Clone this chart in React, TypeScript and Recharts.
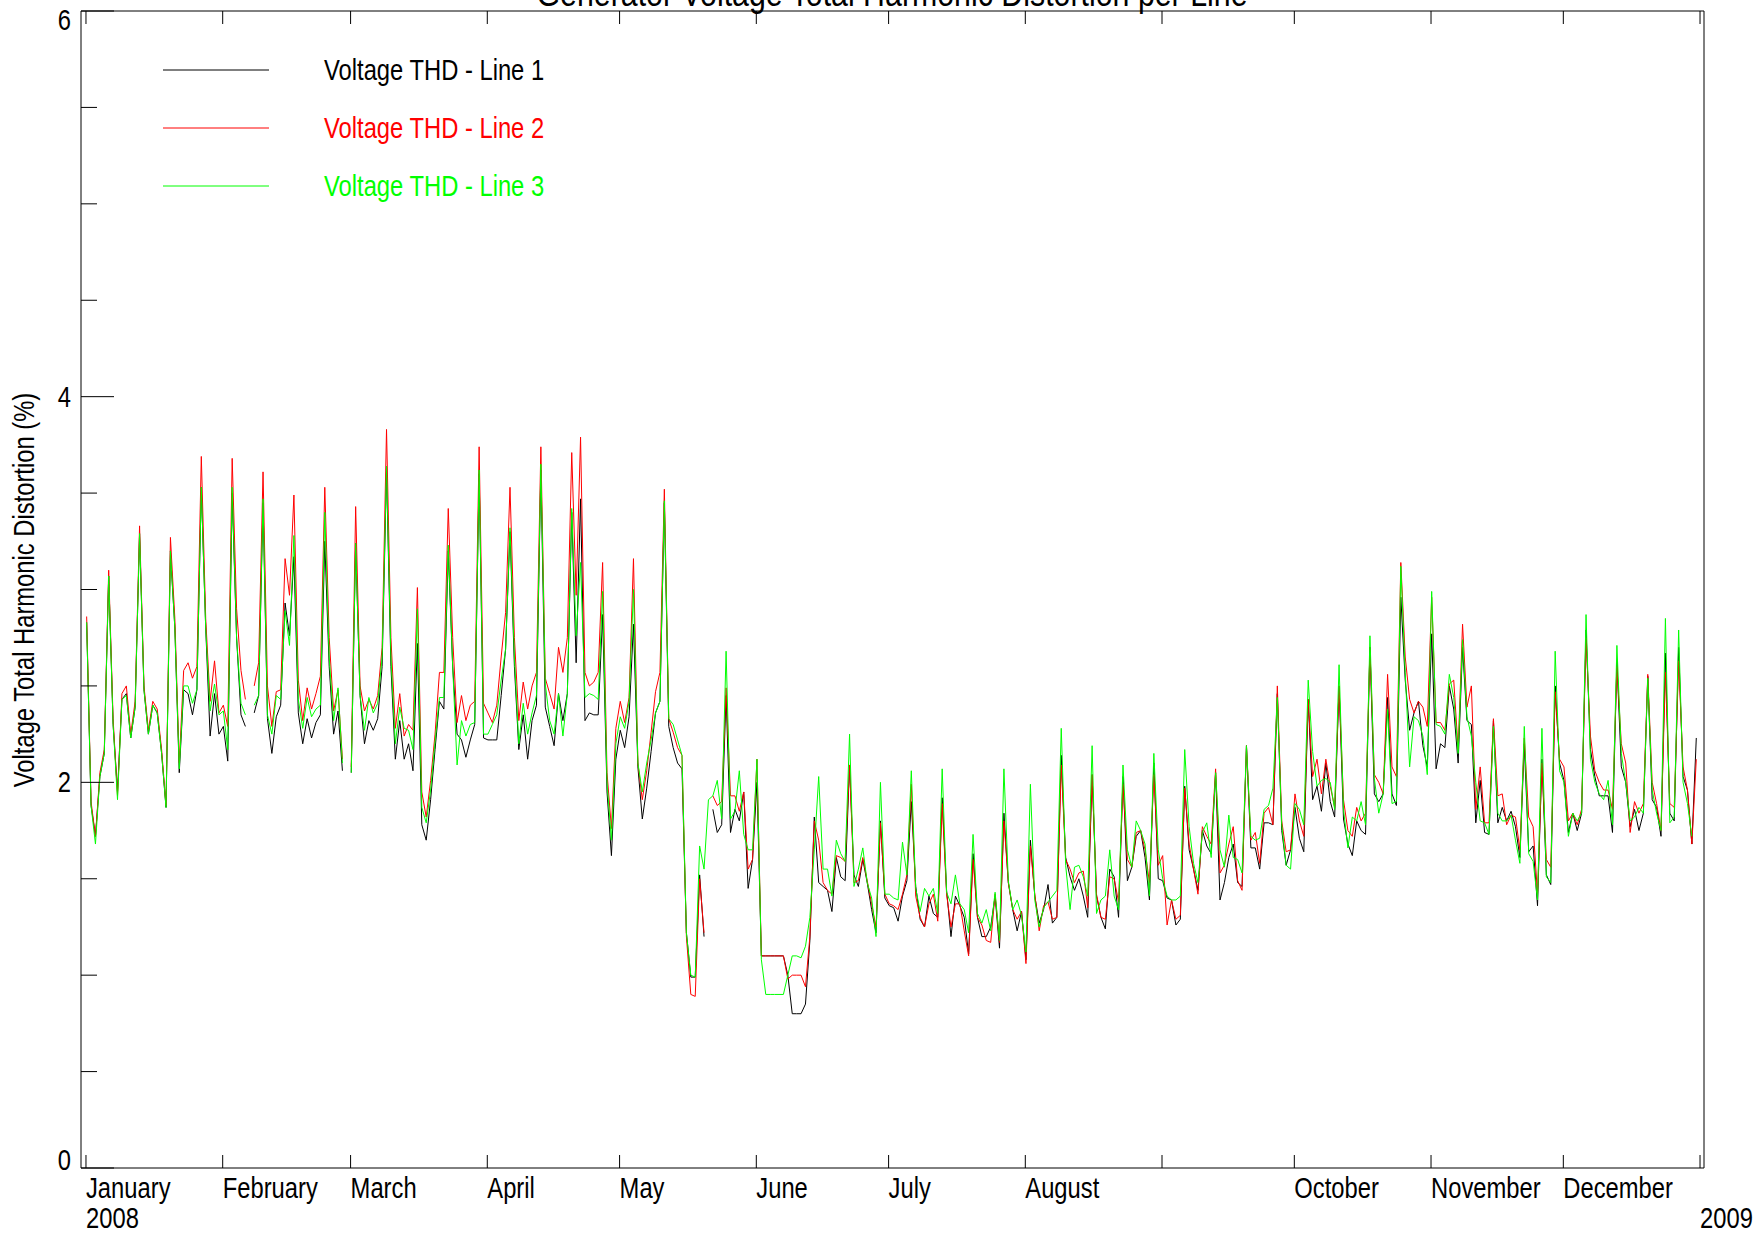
import React from 'react';
import { LineChart, Line, XAxis, YAxis } from 'recharts';

const FONT = "'Liberation Sans', Arial, sans-serif";
const NARROW = 0.82; // squeeze Liberation Sans to Arial Narrow proportions

// day-of-year positions of month starts (2008 is a leap year)
const monthTicks = [0, 31, 60, 91, 121, 152, 182, 213, 244, 274, 305, 335, 366];
const monthLabels = ['January', 'February', 'March', 'April', 'May', 'June', 'July', 'August', '', 'October', 'November', 'December', ''];
const yearLabels: Record<number, string> = { 0: '2008', 366: '2009' };
const yTicks = [0, 0.5, 1, 1.5, 2, 2.5, 3, 3.5, 4, 4.5, 5, 5.5, 6];
const yLabelTicks = [0, 2, 4, 6];

const seriesNames = ['Voltage THD - Line 1', 'Voltage THD - Line 2', 'Voltage THD - Line 3'];
const seriesColors = ['#000000', '#ff0000', '#00ff00'];

// daily values, Jan 1 2008 .. Dec 31 2008 (null = no reading)
const line1 = [
  2.83, 1.88, 1.72, 2.03, 2.15, 3.07, 2.3, 1.95, 2.43, 2.46,
  2.23, 2.39, 3.29, 2.48, 2.25, 2.4, 2.36, 2.15, 1.87, 3.2,
  2.8, 2.05, 2.48, 2.46, 2.35, 2.48, 3.53, 2.8, 2.24, 2.46,
  2.25, 2.29, 2.11, 3.5, 2.75, 2.35, 2.29, null, 2.36, 2.45,
  3.45, 2.33, 2.15, 2.34, 2.4, 2.93, 2.76, 3.17, 2.36, 2.2,
  2.33, 2.23, 2.31, 2.35, 3.25, 2.6, 2.25, 2.37, 2.06, null,
  2.05, 3.24, 2.45, 2.2, 2.32, 2.27, 2.33, 2.6, 3.62, 2.6,
  2.12, 2.32, 2.12, 2.2, 2.06, 2.72, 1.78, 1.7, 1.91, 2.17,
  2.42, 2.38, 3.2, 2.6, 2.25, 2.22, 2.13, 2.22, 2.3, 3.6,
  2.23, 2.22, 2.22, 2.22, 2.45, 2.69, 3.3, 2.6, 2.17, 2.35,
  2.12, 2.32, 2.4, 3.62, 2.39, 2.29, 2.19, 2.46, 2.32, 2.46,
  3.4, 2.62, 3.47, 2.32, 2.36, 2.35, 2.35, 2.87, 1.95, 1.62,
  2.12, 2.27, 2.18, 2.34, 2.82, 2.08, 1.81, 1.97, 2.16, 2.36,
  2.42, 3.45, 2.29, 2.18, 2.1, 2.07, 1.22, 0.99, 0.99, 1.52,
  1.2, null, 1.86, 1.74, 1.78, 2.45, 1.74, 1.86, 1.8, 1.95,
  1.45, 1.6, 2.0, 1.1, 1.1, 1.1, 1.1, 1.1, 1.1, 1.0,
  0.8, 0.8, 0.8, 0.85, 1.18, 1.82, 1.48, 1.46, 1.44, 1.33,
  1.61, 1.51, 1.49, 2.09, 1.52, 1.46, 1.6, 1.48, 1.34, 1.22,
  1.8, 1.4, 1.36, 1.35, 1.28, 1.41, 1.49, 1.9, 1.46, 1.29,
  1.25, 1.41, 1.32, 1.3, 1.92, 1.44, 1.2, 1.41, 1.36, 1.3,
  1.11, 1.63, 1.3, 1.2, 1.2, 1.25, 1.41, 1.14, 1.84, 1.48,
  1.34, 1.23, 1.33, 1.08, 1.7, 1.41, 1.27, 1.34, 1.47, 1.27,
  1.3, 2.14, 1.61, 1.51, 1.44, 1.5, 1.41, 1.3, 2.04, 1.41,
  1.3, 1.24, 1.55, 1.51, 1.3, 2.03, 1.49, 1.56, 1.72, 1.75,
  1.61, 1.39, 2.1, 1.5, 1.49, 1.4, 1.39, 1.26, 1.29, 1.98,
  1.65, 1.55, 1.44, 1.75, 1.67, 1.63, 2.05, 1.39, 1.48, 1.61,
  1.68, 1.48, 1.46, 2.19, 1.66, 1.66, 1.55, 1.79, 1.79, 1.78,
  2.46, 1.75, 1.57, 1.65, 1.87, 1.71, 1.64, 2.43, 1.91, 1.98,
  1.85, 2.1, 1.9, 1.82, 2.5, 1.81, 1.68, 1.62, 1.8, 1.75,
  1.73, 2.7, 1.94, 1.9, 1.94, 2.44, 1.94, 1.88, 2.96, 2.53,
  2.27, 2.36, 2.42, 2.19, 2.08, 2.77, 2.07, 2.2, 2.18, 2.5,
  2.38, 2.1, 2.7, 2.32, 2.3, 1.79, 2.01, 1.74, 1.73, 2.32,
  1.79, 1.87, 1.8, 1.85, 1.77, 1.61, 2.2, 1.64, 1.67, 1.36,
  2.12, 1.52, 1.47, 2.5, 2.1, 2.01, 1.74, 1.84, 1.75, 1.84,
  2.79, 2.17, 2.03, 1.93, 1.93, 1.93, 1.74, 2.63, 2.08, 2.0,
  1.77, 1.86, 1.75, 1.84, 2.55, 1.91, 1.87, 1.72, 2.67, 1.84,
  1.8, 2.7, 2.03, 1.96, 1.68, 2.23,
];

const line2 = [
  2.86, 1.9, 1.72, 2.05, 2.17, 3.1, 2.33, 1.93, 2.46, 2.5,
  2.25, 2.42, 3.33, 2.5, 2.27, 2.42, 2.38, 2.17, 1.88, 3.27,
  2.85, 2.1, 2.58, 2.62, 2.54, 2.6, 3.69, 2.85, 2.42, 2.63,
  2.36, 2.4, 2.29, 3.68, 2.9, 2.58, 2.43, null, 2.5, 2.62,
  3.61, 2.5, 2.29, 2.47, 2.48, 3.16, 2.97, 3.49, 2.53, 2.32,
  2.49, 2.38, 2.46, 2.55, 3.53, 2.75, 2.37, 2.48, 2.12, null,
  2.08, 3.43, 2.5, 2.37, 2.43, 2.38, 2.45, 2.7, 3.83, 2.75,
  2.28, 2.46, 2.24, 2.3, 2.27, 3.01, 1.95, 1.82, 2.01, 2.25,
  2.57, 2.57, 3.42, 2.75, 2.31, 2.45, 2.32, 2.4, 2.42, 3.74,
  2.41, 2.36, 2.31, 2.4, 2.65, 2.88, 3.53, 2.75, 2.32, 2.52,
  2.38, 2.5, 2.57, 3.74, 2.54, 2.46, 2.38, 2.7, 2.57, 2.75,
  3.71, 2.97, 3.79, 2.57, 2.5, 2.52, 2.57, 3.14, 2.05, 1.76,
  2.28, 2.42, 2.31, 2.44, 3.16, 2.1, 1.91, 2.06, 2.26, 2.47,
  2.57, 3.52, 2.33, 2.26, 2.18, 2.14, 1.2, 0.9, 0.89, 1.5,
  1.22, null, 1.93, 1.88, 1.9, 2.49, 1.93, 1.93, 1.85, 1.95,
  1.55, 1.6, 2.12, 1.1, 1.1, 1.1, 1.1, 1.1, 1.1, 0.98,
  1.0, 1.0, 1.0, 0.94, 1.2, 1.8, 1.7, 1.48, 1.44, 1.42,
  1.62, 1.61, 1.59, 2.09, 1.48, 1.49, 1.61, 1.49, 1.37, 1.25,
  1.79, 1.42, 1.37, 1.36, 1.34, 1.42, 1.52, 1.99, 1.41, 1.3,
  1.25, 1.37, 1.42, 1.28, 1.89, 1.42, 1.25, 1.37, 1.37, 1.23,
  1.1, 1.6, 1.3, 1.26, 1.18, 1.17, 1.42, 1.17, 1.8, 1.48,
  1.34, 1.29, 1.33, 1.06, 1.67, 1.42, 1.23, 1.36, 1.38, 1.29,
  1.3, 2.09, 1.6, 1.55, 1.48, 1.53, 1.54, 1.35, 2.04, 1.42,
  1.3, 1.29, 1.51, 1.5, 1.38, 1.99, 1.6, 1.56, 1.74, 1.75,
  1.65, 1.48, 2.04, 1.57, 1.62, 1.26, 1.39, 1.29, 1.31, 1.97,
  1.68, 1.55, 1.42, 1.77, 1.72, 1.68, 2.07, 1.53, 1.57, 1.68,
  1.77, 1.49, 1.44, 2.19, 1.7, 1.74, 1.58, 1.84, 1.87, 1.78,
  2.5, 1.8, 1.64, 1.65, 1.94, 1.8, 1.72, 2.43, 2.03, 2.12,
  1.94, 2.12, 1.98, 1.87, 2.5, 1.91, 1.75, 1.72, 1.87, 1.8,
  1.84, 2.7, 2.04, 2.0, 1.94, 2.56, 2.08, 2.03, 3.14, 2.65,
  2.43, 2.36, 2.42, 2.39, 2.29, 2.96, 2.31, 2.31, 2.27, 2.51,
  2.53, 2.17, 2.82, 2.39, 2.5, 1.86, 2.08, 1.79, 1.79, 2.33,
  1.93, 1.94, 1.78, 1.83, 1.82, 1.65, 2.23, 1.82, 1.77, 1.42,
  2.1, 1.6, 1.56, 2.47, 2.12, 2.08, 1.8, 1.84, 1.78, 1.86,
  2.75, 2.24, 2.06, 2.0, 1.96, 1.96, 1.86, 2.6, 2.2, 2.1,
  1.74, 1.9, 1.84, 1.89, 2.56, 2.0, 1.89, 1.75, 2.57, 1.89,
  1.87, 2.63, 2.08, 1.96, 1.68, 2.12,
];

const line3 = [
  2.83, 1.88, 1.68, 2.03, 2.15, 3.07, 2.3, 1.91, 2.43, 2.45,
  2.23, 2.39, 3.29, 2.48, 2.25, 2.4, 2.36, 2.15, 1.87, 3.2,
  2.8, 2.07, 2.5, 2.5, 2.41, 2.48, 3.53, 2.8, 2.37, 2.51,
  2.35, 2.37, 2.17, 3.53, 2.75, 2.41, 2.35, null, 2.4, 2.45,
  3.47, 2.35, 2.25, 2.45, 2.43, 2.89, 2.71, 3.28, 2.43, 2.28,
  2.44, 2.34, 2.38, 2.4, 3.4, 2.65, 2.32, 2.49, 2.1, null,
  2.05, 3.24, 2.45, 2.27, 2.44, 2.36, 2.41, 2.65, 3.64, 2.65,
  2.2, 2.39, 2.28, 2.27, 2.17, 2.9, 1.87, 1.79, 1.96, 2.21,
  2.44, 2.44, 3.23, 2.6, 2.09, 2.32, 2.24, 2.3, 2.31, 3.62,
  2.25, 2.25, 2.3, 2.35, 2.53, 2.69, 3.32, 2.65, 2.2, 2.41,
  2.25, 2.36, 2.45, 3.65, 2.51, 2.32, 2.25, 2.46, 2.24, 2.46,
  3.42, 2.76, 3.14, 2.44, 2.46, 2.45, 2.43, 2.99, 2.0, 1.7,
  2.2, 2.34, 2.28, 2.42, 3.0, 2.1, 1.95, 2.1, 2.22, 2.36,
  2.42, 3.46, 2.33, 2.3, 2.22, 2.14, 1.22, 1.0, 0.99, 1.67,
  1.55, 1.91, 1.93, 2.01, 1.81, 2.68, 1.81, 1.85, 2.06, 1.73,
  1.65, 1.65, 2.12, 1.08, 0.9, 0.9, 0.9, 0.9, 0.9, 1.0,
  1.1, 1.1, 1.09, 1.15, 1.3, 1.65, 2.03, 1.55, 1.55, 1.41,
  1.7, 1.63, 1.59, 2.25, 1.46, 1.55, 1.66, 1.48, 1.4, 1.2,
  2.0, 1.42, 1.42, 1.4, 1.39, 1.69, 1.52, 2.06, 1.45, 1.33,
  1.45, 1.41, 1.45, 1.32, 2.07, 1.43, 1.37, 1.52, 1.37, 1.34,
  1.22, 1.73, 1.32, 1.27, 1.34, 1.23, 1.43, 1.18, 2.07, 1.49,
  1.34, 1.39, 1.31, 1.12, 1.99, 1.39, 1.25, 1.35, 1.38, 1.41,
  1.44, 2.28, 1.57, 1.34, 1.56, 1.57, 1.51, 1.41, 2.19, 1.32,
  1.39, 1.41, 1.65, 1.41, 1.34, 2.09, 1.65, 1.56, 1.8, 1.75,
  1.68, 1.41, 2.15, 1.65, 1.5, 1.41, 1.39, 1.39, 1.41, 2.17,
  1.77, 1.58, 1.48, 1.74, 1.79, 1.61, 2.05, 1.65, 1.56, 1.83,
  1.61, 1.6, 1.53, 2.19, 1.72, 1.7, 1.71, 1.86, 1.88, 1.97,
  2.44, 1.78, 1.57, 1.55, 1.89, 1.86, 1.78, 2.53, 2.16, 1.98,
  2.01, 2.02, 2.0, 1.86, 2.61, 1.86, 1.66, 1.82, 1.8, 1.9,
  1.78, 2.76, 2.02, 1.84, 1.94, 2.38, 1.89, 1.9, 3.12, 2.57,
  2.08, 2.34, 2.32, 2.24, 2.04, 2.99, 2.3, 2.29, 2.25, 2.56,
  2.44, 2.15, 2.74, 2.34, 2.24, 2.0, 1.8, 1.79, 1.73, 2.29,
  1.84, 1.8, 1.8, 1.83, 1.7, 1.58, 2.29, 1.63, 1.59, 1.39,
  2.28, 1.51, 1.48, 2.68, 2.06, 2.0, 1.72, 1.84, 1.8, 1.84,
  2.87, 2.12, 2.0, 1.94, 1.91, 2.01, 1.78, 2.71, 2.15, 2.0,
  1.8, 1.82, 1.87, 1.84, 2.54, 1.96, 1.84, 1.75, 2.85, 1.79,
  1.82, 2.79, 2.0, 1.89, 1.72, null,
];

const data = line1.map((v, i) => ({ day: i + 0.15, l1: v, l2: line2[i], l3: line3[i] }));

const NText = ({ x, y, anchor = 'start', fill = '#000', size = 29, children }: any) => (
  <text
    transform={`translate(${x} ${y}) scale(${NARROW} 1)`}
    textAnchor={anchor}
    fontSize={size}
    fontFamily={FONT}
    fill={fill}
  >
    {children}
  </text>
);

const BottomTick = (props: any) => {
  const { x, y, payload } = props;
  const idx = monthTicks.indexOf(payload.value);
  const year = yearLabels[payload.value];
  return (
    <g>
      <line x1={x} x2={x} y1={y} y2={y - 13} stroke="#000" />
      {monthLabels[idx] ? <NText x={x} y={y + 30}>{monthLabels[idx]}</NText> : null}
      {year ? <NText x={x} y={y + 60}>{year}</NText> : null}
    </g>
  );
};

const TopTick = (props: any) => {
  const { x, y } = props;
  return <line x1={x} x2={x} y1={y} y2={y + 13} stroke="#000" />;
};

const LeftTick = (props: any) => {
  const { x, y, payload } = props;
  const major = yLabelTicks.includes(payload.value);
  const len = major ? 33 : 16;
  let dy = 10;
  if (payload.value === 6) dy = 19;
  if (payload.value === 0) dy = 2;
  return (
    <g>
      <line x1={x} x2={x + len} y1={y} y2={y} stroke="#000" />
      {major ? <NText x={x - 10} y={y + dy} anchor="end">{payload.value}</NText> : null}
    </g>
  );
};

const RightTick = (props: any) => {
  const { x, y, payload } = props;
  const len = yLabelTicks.includes(payload.value) ? 33 : 16;
  return <line x1={x} x2={x - len} y1={y} y2={y} stroke="#000" />;
};

export default function App() {
  return (
    <div style={{ position: 'absolute', left: 0, top: 0, width: 1758, height: 1235, background: '#fff', overflow: 'hidden' }}>
      <LineChart
        width={1758}
        height={1235}
        data={data}
        margin={{ top: 10, right: 53, bottom: 66, left: 80 }}
      >
        <XAxis
          xAxisId="b"
          type="number"
          dataKey="day"
          domain={[-1.13, 366.9]}
          ticks={monthTicks}
          interval={0}
          height={1}
          tickSize={0}
          tickMargin={0}
          tickLine={false}
          axisLine={{ stroke: '#000' }}
          tick={<BottomTick />}
          allowDataOverflow
        />
        <XAxis
          xAxisId="t"
          orientation="top"
          type="number"
          dataKey="day"
          domain={[-1.13, 366.9]}
          ticks={monthTicks}
          interval={0}
          height={1}
          tickSize={0}
          tickMargin={0}
          tickLine={false}
          axisLine={{ stroke: '#000' }}
          tick={<TopTick />}
          allowDataOverflow
        />
        <YAxis
          yAxisId="l"
          type="number"
          domain={[0, 6]}
          ticks={yTicks}
          interval={0}
          width={1}
          tickSize={0}
          tickMargin={0}
          tickLine={false}
          axisLine={{ stroke: '#000' }}
          tick={<LeftTick />}
        />
        <YAxis
          yAxisId="r"
          orientation="right"
          type="number"
          domain={[0, 6]}
          ticks={yTicks}
          interval={0}
          width={1}
          tickSize={0}
          tickMargin={0}
          tickLine={false}
          axisLine={{ stroke: '#000' }}
          tick={<RightTick />}
        />
        <Line xAxisId="b" yAxisId="l" type="linear" dataKey="l1" stroke={seriesColors[0]} strokeWidth={1} dot={false} isAnimationActive={false} connectNulls={false} />
        <Line xAxisId="b" yAxisId="l" type="linear" dataKey="l2" stroke={seriesColors[1]} strokeWidth={1} dot={false} isAnimationActive={false} connectNulls={false} />
        <Line xAxisId="b" yAxisId="l" type="linear" dataKey="l3" stroke={seriesColors[2]} strokeWidth={1} dot={false} isAnimationActive={false} connectNulls={false} />
      </LineChart>

      <svg width={1758} height={1235} style={{ position: 'absolute', left: 0, top: 0, pointerEvents: 'none' }}>
        <NText x={892} y={6} anchor="middle" size={37}>Generator Voltage Total Harmonic Distortion per Line</NText>
        <text
          x={0}
          y={0}
          fontSize={29}
          fontFamily={FONT}
          fill="#000"
          textAnchor="middle"
          transform={`translate(34 590) rotate(-90) scale(${NARROW} 1)`}
        >
          Voltage Total Harmonic Distortion (%)
        </text>
        {seriesNames.map((name, i) => {
          const ly = 70 + i * 58;
          return (
            <g key={name}>
              <line x1={163} x2={269} y1={ly} y2={ly} stroke={seriesColors[i]} strokeWidth={1} />
              <NText x={324} y={ly + 10} fill={seriesColors[i]}>{name}</NText>
            </g>
          );
        })}
      </svg>
    </div>
  );
}
